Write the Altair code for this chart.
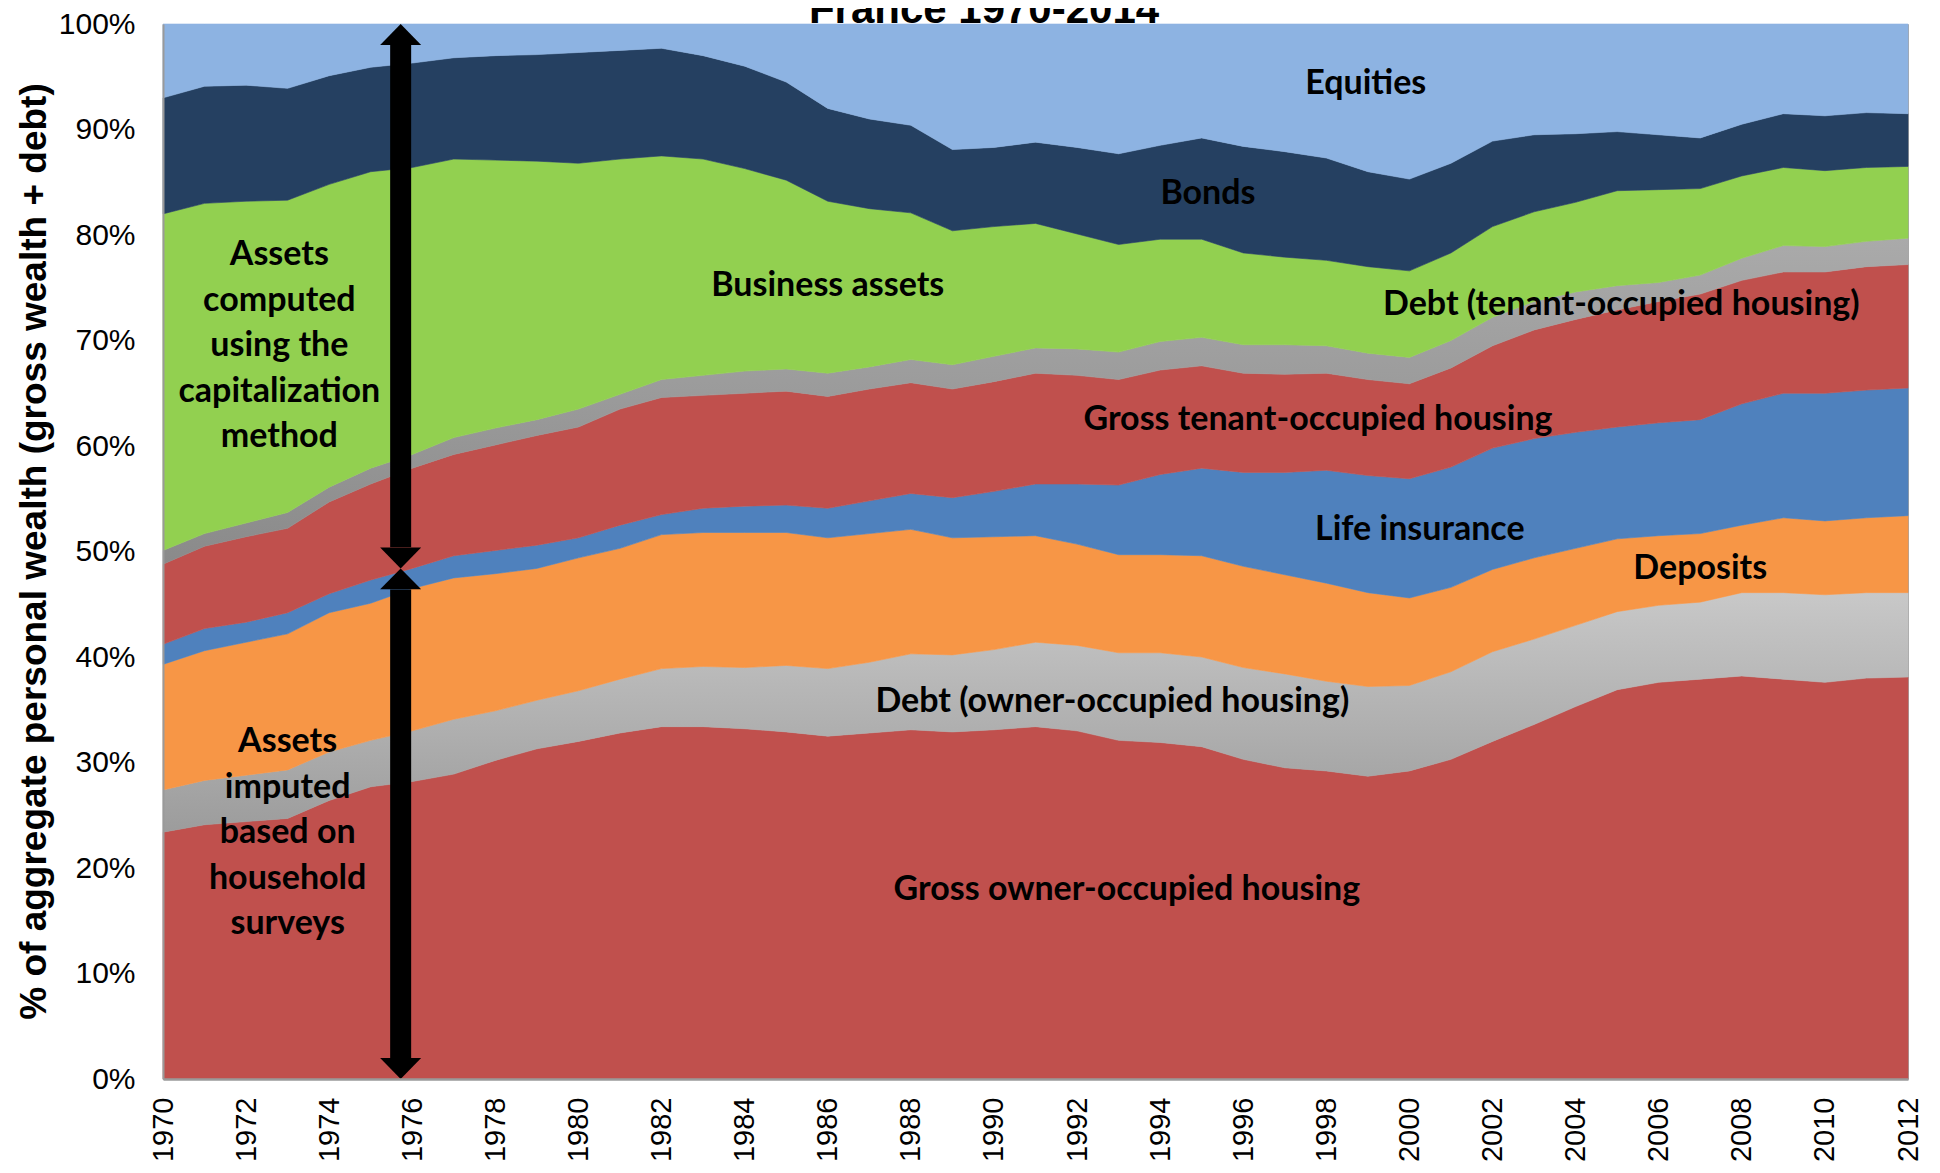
import altair as alt
import pandas as pd

years = list(range(1970, 2013))

owner_housing = [23.4,24.1,24.4,24.7,26.4,27.7,28.2,28.9,30.2,31.3,32.0,32.8,33.4,33.4,33.2,32.9,32.5,32.8,33.1,32.9,33.1,33.4,33.0,32.1,31.9,31.5,30.3,29.5,29.2,28.7,29.2,30.3,32.0,33.6,35.3,36.9,37.6,37.9,38.2,37.9,37.6,38.0,38.1]
owner_debt = [4.0,4.2,4.4,4.6,4.6,4.4,4.8,5.2,4.7,4.6,4.8,5.1,5.5,5.7,5.8,6.3,6.4,6.7,7.2,7.3,7.6,8.0,8.1,8.3,8.5,8.5,8.7,8.9,8.5,8.5,8.1,8.3,8.5,8.1,7.7,7.4,7.3,7.3,7.9,8.2,8.3,8.1,8.0]
deposits = [11.9,12.3,12.6,12.9,13.2,13.0,13.5,13.4,13.0,12.5,12.6,12.4,12.7,12.7,12.8,12.6,12.4,12.2,11.8,11.1,10.7,10.1,9.6,9.3,9.3,9.6,9.6,9.4,9.3,8.9,8.3,8.0,7.8,7.7,7.3,6.9,6.6,6.5,6.4,7.1,7.0,7.1,7.3]
life_insurance = [1.9,2.1,1.9,2.0,1.8,2.2,1.9,2.1,2.2,2.2,1.9,2.2,1.9,2.3,2.5,2.6,2.8,3.1,3.4,3.8,4.3,4.9,5.7,6.6,7.6,8.3,8.9,9.7,10.7,11.1,11.3,11.4,11.5,11.3,11.0,10.6,10.7,10.8,11.5,11.8,12.1,12.1,12.1]
tenant_housing = [7.6,7.8,8.1,8.0,8.7,9.1,9.5,9.6,10.0,10.4,10.5,11.0,11.1,10.7,10.7,10.8,10.6,10.6,10.5,10.3,10.4,10.5,10.3,10.0,9.9,9.7,9.4,9.3,9.2,9.1,9.0,9.4,9.7,10.3,10.7,11.1,11.5,11.9,11.7,11.5,11.5,11.7,11.7]
tenant_debt = [1.3,1.2,1.3,1.5,1.4,1.5,1.3,1.6,1.6,1.5,1.7,1.4,1.7,1.9,2.1,2.1,2.2,2.1,2.2,2.3,2.4,2.4,2.5,2.6,2.7,2.7,2.7,2.8,2.6,2.5,2.5,2.6,2.7,2.7,2.6,2.3,1.8,1.8,2.1,2.5,2.4,2.4,2.5]
business_assets = [31.9,31.3,30.5,29.6,28.7,28.1,27.2,26.4,25.4,24.5,23.3,22.3,21.2,20.5,19.2,17.9,16.3,15.0,13.9,12.7,12.3,11.8,10.9,10.2,9.7,9.3,8.7,8.3,8.1,8.2,8.2,8.3,8.6,8.5,8.5,9.0,8.8,8.2,7.8,7.4,7.2,7.0,6.8]
bonds = [11.0,11.1,11.0,10.6,10.3,9.9,9.9,9.6,9.9,10.1,10.5,10.3,10.2,9.8,9.7,9.3,8.8,8.5,8.3,7.7,7.5,7.7,8.2,8.6,8.9,9.6,10.1,10.0,9.7,9.0,8.7,8.5,8.1,7.3,6.5,5.6,5.2,4.8,4.9,5.1,5.2,5.2,5.0]
equities = [7.0,5.9,5.8,6.1,4.9,4.1,3.7,3.2,3.0,2.9,2.7,2.5,2.3,3.0,4.0,5.5,8.0,9.0,9.6,11.9,11.7,11.2,11.7,12.3,11.5,10.8,11.6,12.1,12.7,14.0,14.7,13.2,11.1,10.5,10.4,10.2,10.5,10.8,9.5,8.5,8.7,8.4,8.5]

series_names = [
    "Gross owner-occupied housing",
    "Debt (owner-occupied housing)",
    "Deposits",
    "Life insurance",
    "Gross tenant-occupied housing",
    "Debt (tenant-occupied housing)",
    "Business assets",
    "Bonds",
    "Equities",
]
series_values = [owner_housing, owner_debt, deposits, life_insurance, tenant_housing,
                 tenant_debt, business_assets, bonds, equities]

# label annotations (year, percent); multi-line labels anchored at their first line
label_texts = series_names + [
    "Assets\ncomputed\nusing the\ncapitalization\nmethod",
    "Assets\nimputed\nbased on\nhousehold\nsurveys",
]
label_x = [1993.2, 1992.85, 2007.0, 2000.25, 1997.8, 2005.1, 1986.0, 1995.15, 1998.95, 1972.8, 1973.0]
label_y = [17.9, 35.7, 48.3, 52.0, 62.5, 73.4, 75.2, 83.85, 94.3, 78.1, 31.9]

# double arrow at ~1976
arrow_x = 1975.72
arrow_meet = 48.4

rows = []
for i, (name, vals) in enumerate(zip(series_names, series_values)):
    for yr, v in zip(years, vals):
        rows.append({"year": yr, "series": name, "order": i, "value": v})
df = pd.DataFrame(rows)


def gray_grad(top, bottom):
    return alt.Gradient(
        gradient="linear",
        stops=[alt.GradientStop(color=top, offset=0), alt.GradientStop(color=bottom, offset=1)],
        x1=0, x2=0, y1=0, y2=1,
    )


fills = [
    "#C0504D",
    gray_grad("#C8C8C8", "#9C9C9C"),
    "#F79646",
    "#4F81BD",
    "#C0504D",
    gray_grad("#AAAAAA", "#8A8A8A"),
    "#92D050",
    "#254061",
    "#8DB3E2",
]

xscale = alt.Scale(domain=[1970, 2012], nice=False, zero=False)
yscale = alt.Scale(domain=[0, 100], nice=False)
xaxis = alt.Axis(values=list(range(1970, 2013, 2)), format="d", labelAngle=-90, title=None,
                 ticks=False, tickSize=0, grid=False, labelPadding=18, labelFontSize=29,
                 labelFont="Liberation Sans", labelColor="black", labelOverlap=False,
                 labelBound=False, domainColor="#9A9A9A", domainWidth=2.5, zindex=1)
yaxis = alt.Axis(values=list(range(0, 101, 10)), labelExpr="datum.value + '%'", ticks=False, tickSize=0,
                 grid=False, labelPadding=28, labelFontSize=30, labelFont="Liberation Sans",
                 labelColor="black", domainColor="#9A9A9A", domainWidth=2, zindex=1,
                 title="% of aggregate personal wealth (gross wealth + debt)",
                 titleFont="Liberation Sans", titleFontSize=37, titleFontWeight="bold",
                 titleColor="black", titleAngle=270, titleAlign="center", titleBaseline="middle",
                 titleX=-129, titleY=527)


def X(field):
    return alt.X(field, type="quantitative", scale=xscale, axis=xaxis)


def Y(field):
    return alt.Y(field, type="quantitative", scale=yscale, axis=yaxis)


base = alt.Chart(df).transform_stack(
    stack="value", groupby=["year"], sort=[alt.SortField(field="order", order="ascending")],
    as_=["y0", "y1"],
)

layers = []
for name, fill in zip(series_names, fills):
    layers.append(
        base.transform_filter(alt.datum.series == name)
        .mark_area(color=fill, stroke=fill, strokeWidth=0.6, opacity=1)
        .encode(x=X("year"), y=Y("y1"), y2="y0")
    )

# arrows
head_h = 2.0
shafts = pd.DataFrame({
    "year": [arrow_x, arrow_x],
    "y1": [100 - head_h, arrow_meet - head_h],
    "y0": [arrow_meet + head_h, head_h],
})
layers.append(
    alt.Chart(shafts).mark_rule(color="black", strokeWidth=21, strokeCap="butt")
    .encode(x=X("year"), y=Y("y1"), y2="y0")
)
up_heads = pd.DataFrame({"year": [arrow_x, arrow_x], "y1": [100, arrow_meet]})
down_heads = pd.DataFrame({"year": [arrow_x, arrow_x], "y1": [arrow_meet, 0]})
layers.append(
    alt.Chart(up_heads).mark_point(shape="M0,0L1,1.02L-1,1.02Z", filled=True, size=1681,
                                   color="black", opacity=1, strokeWidth=0)
    .encode(x=X("year"), y=Y("y1"))
)
layers.append(
    alt.Chart(down_heads).mark_point(shape="M0,0L1,-1.02L-1,-1.02Z", filled=True, size=1681,
                                     color="black", opacity=1, strokeWidth=0)
    .encode(x=X("year"), y=Y("y1"))
)

labels = pd.DataFrame({"year": label_x, "y1": label_y, "text": label_texts})
layers.append(
    alt.Chart(labels).mark_text(font="Lato", fontWeight="bold", fontSize=34, color="black",
                                align="center", baseline="middle", lineBreak="\n", lineHeight=45.5)
    .encode(x=X("year"), y=Y("y1"), text="text:N")
)

title_df = pd.DataFrame({"t": ["France 1970-2014"]})
layers.append(
    alt.Chart(title_df).mark_text(font="Liberation Sans", fontWeight="bold", fontSize=42,
                                  color="black", align="center", baseline="alphabetic")
    .encode(text="t:N", x=alt.value(821), y=alt.value(-1))
)

frame_df = pd.DataFrame({"k": [0]})
layers.append(
    alt.Chart(frame_df).mark_rule(color="#A6A6A6", strokeWidth=2)
    .encode(x=alt.value(-157), y=alt.value(-40), y2=alt.value(1160))
)

chart = (
    alt.layer(*layers)
    .properties(
        width=1745, height=1055,
        padding={"left": 155, "top": 16, "right": 20, "bottom": 84},
        autosize=alt.AutoSizeParams(type="none"),
        background="white",
    )
    .configure_view(stroke="#A6A6A6", strokeWidth=1)
)

chart.save("out.html", embed_options={"renderer": "svg", "actions": False})
